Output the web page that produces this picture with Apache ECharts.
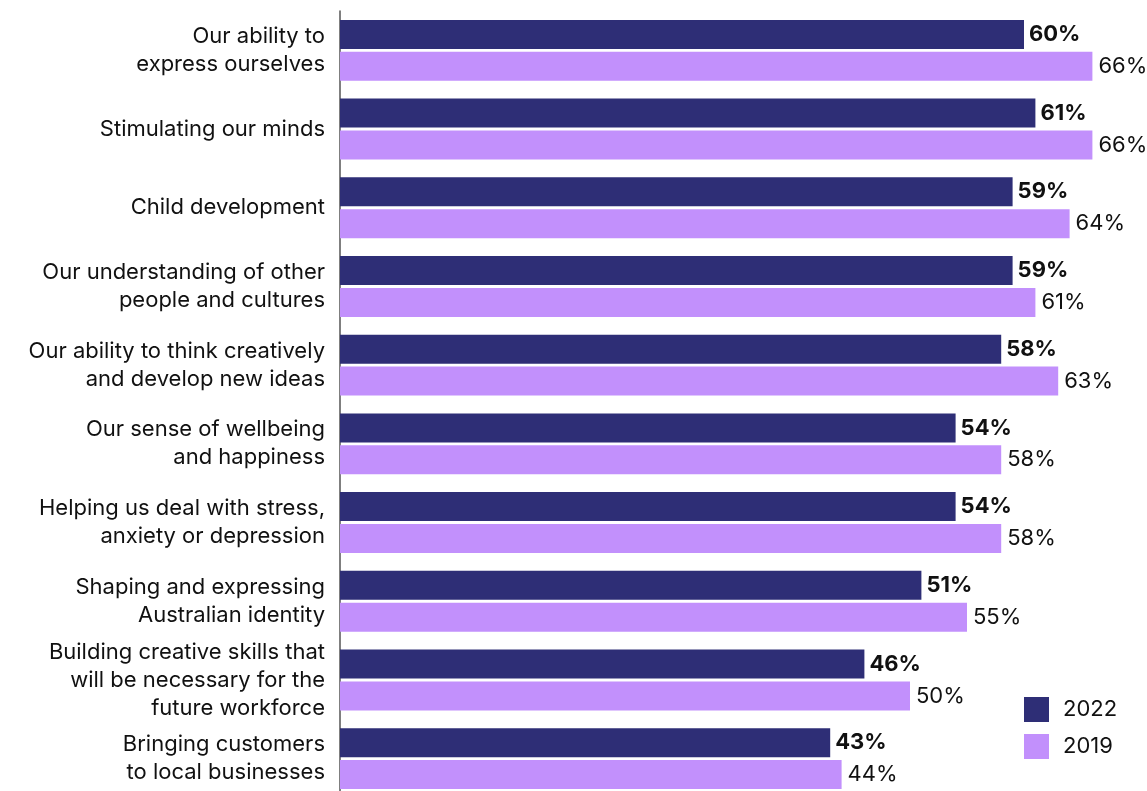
<!DOCTYPE html>
<html>
<head>
<meta charset="utf-8">
<script src="https://cdn.jsdelivr.net/npm/echarts@6/dist/echarts.min.js"></script>
<style>
  html, body { margin: 0; padding: 0; background: #fff; }
  #main { width: 1147px; height: 791px; }
</style>
</head>
<body>
<div id="main"></div>
<script>
const categories = [
  "Our ability to\nexpress ourselves",
  "Stimulating our minds",
  "Child development",
  "Our understanding of other\npeople and cultures",
  "Our ability to think creatively\nand develop new ideas",
  "Our sense of wellbeing\nand happiness",
  "Helping us deal with stress,\nanxiety or depression",
  "Shaping and expressing\nAustralian identity",
  "Building creative skills that\nwill be necessary for the\nfuture workforce",
  "Bringing customers\nto local businesses",
];
const values2022 = [60, 61, 59, 59, 58, 54, 54, 51, 46, 43];
const values2019 = [66, 66, 64, 61, 63, 58, 58, 55, 50, 44];

const chart = echarts.init(document.getElementById("main"));
const font = "Inter, 'Noto Sans', sans-serif";

const option = {
  animation: false,
  textStyle: { fontFamily: font },
  grid: {
    left: 340, top: 11, width: 798, height: 787,
    containLabel: false,
    outerBoundsMode: "none",
  },
  legend: {
    orient: "vertical",
    left: 1019,
    top: 692,
    itemWidth: 25,
    itemHeight: 25,
    itemGap: 12,
    icon: "rect",
    textStyle: { fontSize: 22, color: "#111", fontFamily: font, padding: [0, 0, 0, 9] },
    data: ["2022", "2019"],
  },
  xAxis: {
    type: "value",
    min: 0,
    max: 70,
    show: false,
  },
  yAxis: {
    type: "category",
    inverse: true,
    data: categories,
    axisLine: { show: true, lineStyle: { color: "#555", width: 1.5 } },
    axisTick: { show: false },
    axisLabel: {
      margin: 15,
      fontSize: 22,
      lineHeight: 28,
      color: "#111",
      align: "right",
      fontFamily: font,
    },
  },
  series: [
    {
      name: "2022",
      type: "bar",
      data: values2022,
      barWidth: 29,
      barGap: "10%",
      itemStyle: { color: "#2e2e76" },
      label: {
        show: true,
        position: "right",
        distance: 5,
        formatter: "{c}%",
        fontSize: 22,
        fontWeight: "bold",
        color: "#111",
        fontFamily: font,
      },
    },
    {
      name: "2019",
      type: "bar",
      data: values2019,
      barWidth: 29,
      barGap: "10%",
      itemStyle: { color: "#c290fc" },
      label: {
        show: true,
        position: "right",
        distance: 6,
        formatter: "{c}%",
        fontSize: 22,
        color: "#111",
        fontFamily: font,
      },
    },
  ],
};

chart.setOption(option);
</script>
</body>
</html>
